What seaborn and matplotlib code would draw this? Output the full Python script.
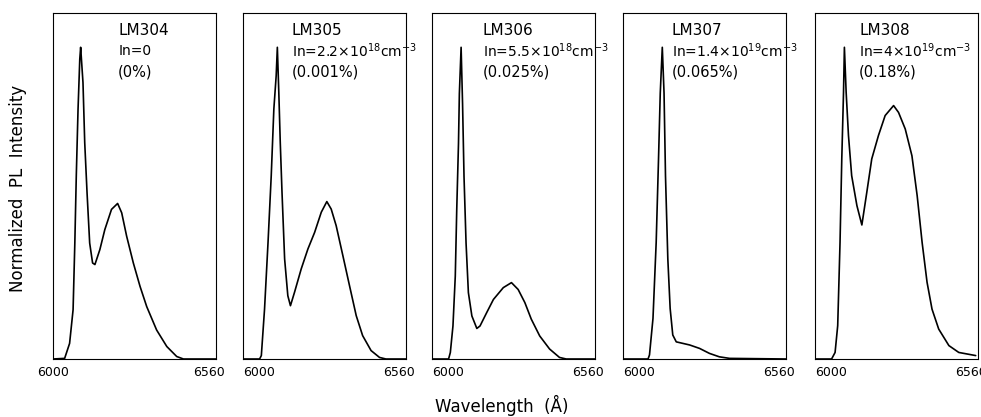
import numpy as np
import pandas as pd
import matplotlib
matplotlib.use("Agg")
import matplotlib.pyplot as plt
import matplotlib.transforms as mtransforms
import seaborn as sns

# Muestras y etiquetas de cada panel
samples = ["LM304", "LM305", "LM306", "LM307", "LM308"]
conc_labels = ["In=0",
               "In=2.2×10$^{18}$cm$^{-3}$",
               "In=5.5×10$^{18}$cm$^{-3}$",
               "In=1.4×10$^{19}$cm$^{-3}$",
               "In=4×10$^{19}$cm$^{-3}$"]
pct_labels = ["(0%)", "(0.001%)", "(0.025%)", "(0.065%)", "(0.18%)"]
tick_labels = ["6000", "6560"]

# Espectros (longitud de onda en Å, intensidad normalizada)
wl_lm304 = [6000, 6040, 6057, 6069, 6075, 6080, 6086, 6092, 6095, 6103, 6109, 6117, 6126,
            6136, 6144, 6161, 6178, 6201, 6222, 6236, 6253, 6276, 6299, 6322, 6356,
            6391, 6425, 6448, 6560]
int_lm304 = [0.0, 0.002, 0.05, 0.158, 0.372, 0.587, 0.80, 0.962, 1.0, 0.887, 0.694, 0.533,
             0.372, 0.308, 0.303, 0.351, 0.415, 0.48, 0.499, 0.469, 0.394, 0.308, 0.233,
             0.168, 0.093, 0.04, 0.008, 0.0, 0.0]

wl_lm305 = [6000, 6057, 6063, 6074, 6086, 6097, 6106, 6114, 6118, 6123, 6128, 6134, 6143,
            6154, 6163, 6177, 6200, 6223, 6246, 6269, 6288, 6303, 6320, 6343, 6366,
            6389, 6411, 6440, 6469, 6491, 6560]
int_lm305 = [0.0, 0.0, 0.011, 0.16, 0.374, 0.588, 0.802, 0.909, 1.0, 0.856, 0.695, 0.535,
             0.321, 0.203, 0.171, 0.214, 0.289, 0.353, 0.406, 0.471, 0.505, 0.481, 0.428,
             0.332, 0.235, 0.139, 0.075, 0.027, 0.005, 0.0, 0.0]

wl_lm306 = [6000, 6057, 6063, 6072, 6080, 6085, 6091, 6094, 6100, 6105, 6110, 6117, 6125,
            6137, 6154, 6165, 6188, 6211, 6245, 6273, 6296, 6319, 6341, 6370, 6404,
            6438, 6461, 6560]
int_lm306 = [0.0, 0.0, 0.021, 0.106, 0.266, 0.479, 0.691, 0.851, 1.0, 0.819, 0.585, 0.372,
             0.213, 0.138, 0.098, 0.106, 0.149, 0.191, 0.229, 0.245, 0.223, 0.181, 0.128,
             0.074, 0.032, 0.005, 0.0, 0.0]

wl_lm307 = [6000, 6086, 6091, 6103, 6114, 6122, 6128, 6135, 6141, 6146, 6154, 6162, 6171,
            6183, 6206, 6229, 6263, 6297, 6331, 6366, 6560]
int_lm307 = [0.0, 0.0, 0.013, 0.13, 0.374, 0.64, 0.853, 1.0, 0.853, 0.587, 0.321, 0.162,
             0.077, 0.055, 0.05, 0.045, 0.034, 0.018, 0.007, 0.002, 0.0]

wl_lm308 = [6000, 6057, 6069, 6078, 6086, 6092, 6098, 6101, 6107, 6115, 6126, 6144, 6161,
            6178, 6195, 6218, 6241, 6270, 6287, 6310, 6333, 6351, 6368, 6385, 6402,
            6425, 6460, 6494, 6552]
int_lm308 = [0.0, 0.0, 0.021, 0.107, 0.374, 0.642, 0.856, 1.0, 0.856, 0.717, 0.588, 0.492,
             0.43, 0.535, 0.642, 0.717, 0.781, 0.813, 0.791, 0.738, 0.652, 0.524, 0.374,
             0.246, 0.16, 0.096, 0.043, 0.021, 0.011]

spectra = [(wl_lm304, int_lm304), (wl_lm305, int_lm305), (wl_lm306, int_lm306),
           (wl_lm307, int_lm307), (wl_lm308, int_lm308)]

sns.set_style("white")
plt.rcParams['font.family'] = ['DejaVu Sans']
plt.rcParams['text.color'] = 'black'
plt.rcParams['xtick.color'] = 'black'

fig = plt.figure(figsize=(9.81, 4.17), dpi=100)

# Posiciones de los paneles (en pixeles de la figura)
lefts = [53, 243, 432, 623, 815]
text_x = [0.40, 0.30, 0.31, 0.30, 0.27]
W, H = 981, 417

# Desplazamiento de la etiqueta derecha hacia dentro
shift_left = mtransforms.ScaledTranslation(-7 / 100, 0, fig.dpi_scale_trans)

for i, (wl, inten) in enumerate(spectra):
    ax = fig.add_axes([lefts[i] / W, 58 / H, 163 / W, 346 / H])
    df = pd.DataFrame({"wl": wl, "int": inten})
    sns.lineplot(data=df, x="wl", y="int", ax=ax, color="black", linewidth=1.2)
    ax.set_xlim(6000, 6560)
    ax.set_ylim(0, 1.11)
    ax.set_xticks([6000, 6560])
    ax.set_xticklabels(tick_labels, fontsize=9, color="black")
    ax.set_yticks([])
    ax.tick_params(axis="x", length=0, pad=5)
    lbl_left, lbl_right = ax.get_xticklabels()
    if i > 0:
        lbl_left.set_ha("left")
    lbl_right.set_transform(lbl_right.get_transform() + shift_left)
    ax.set_xlabel("")
    ax.set_ylabel("")
    for s in ax.spines.values():
        s.set_color("black")
        s.set_linewidth(0.8)
    ax.text(text_x[i], 0.95, samples[i], transform=ax.transAxes, fontsize=11, va="center")
    ax.text(text_x[i], 0.89, conc_labels[i], transform=ax.transAxes, fontsize=10, va="center")
    ax.text(text_x[i], 0.83, pct_labels[i], transform=ax.transAxes, fontsize=10.5, va="center")

fig.text(18 / W, 1 - 188 / H, "Normalized  PL  Intensity", rotation=90, ha="center",
         va="center", fontsize=12)
fig.text(502 / W, 1 - 405 / H, "Wavelength  (Å)", ha="center", va="center", fontsize=12)

fig.savefig("out.png", dpi=100)
